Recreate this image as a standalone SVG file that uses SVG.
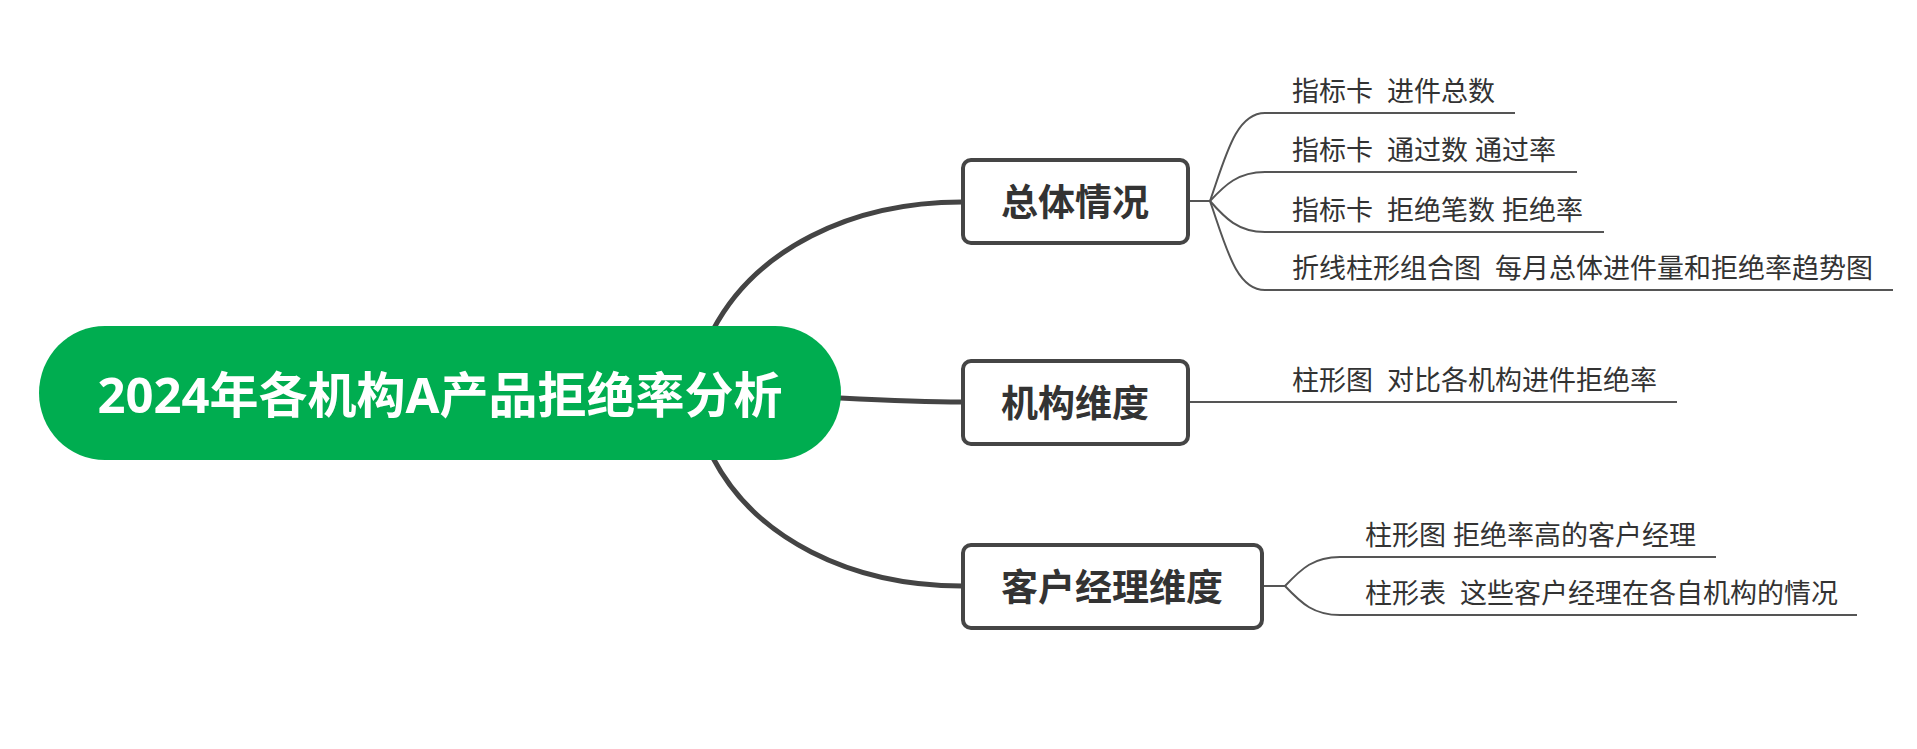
<svg xmlns="http://www.w3.org/2000/svg" width="1917" height="749" viewBox="0 0 1917 749">
  <style>
    .root-shape { fill: #00AD50; }
    .root-text { font-family: "Noto Sans", "Noto Sans CJK SC", sans-serif; font-weight: 700; font-size: 49px; fill: #ffffff; }
    .box { fill: #ffffff; stroke: #454545; stroke-width: 4; }
    .box-text { font-family: "Noto Sans", "Noto Sans CJK SC", sans-serif; font-weight: 700; font-size: 37px; fill: #333333; }
    .leaf-text { font-family: "Noto Sans", "Noto Sans CJK SC", sans-serif; font-size: 27px; fill: #333333; white-space: pre; }
    .main-link { fill: none; stroke: #444444; stroke-width: 5; stroke-linecap: round; }
    .sub-link { fill: none; stroke: #555555; stroke-width: 2; }
  </style>
  <rect width="1917" height="749" fill="#ffffff"/>

  <g id="connectors">
    <path class="main-link" d="M713,330 C755,250 850,202 962,202"/>
    <path class="main-link" d="M840,398 C880,400 920,402 962,402"/>
    <path class="main-link" d="M713,458 C755,538 850,586 962,586"/>

    <path class="sub-link" d="M1188,201 L1210,201"/>
    <path class="sub-link" d="M1210,201 C1226,155 1236,113 1265,113 L1515,113"/>
    <path class="sub-link" d="M1210,201 C1225,185 1238,172 1265,172 L1577,172"/>
    <path class="sub-link" d="M1210,201 C1225,218 1238,232 1265,232 L1604,232"/>
    <path class="sub-link" d="M1210,201 C1226,247 1236,290 1265,290 L1893,290"/>

    <path class="sub-link" d="M1188,402 L1677,402"/>

    <path class="sub-link" d="M1262,586 L1285,586"/>
    <path class="sub-link" d="M1285,586 C1302,568 1314,557 1340,557 L1716,557"/>
    <path class="sub-link" d="M1285,586 C1302,604 1314,615 1340,615 L1857,615"/>
  </g>

  <g id="root">
    <rect class="root-shape" x="39" y="326" width="802" height="134" rx="66" ry="67"/>
    <text class="root-text" x="440" y="413" text-anchor="middle">2024年各机构A产品拒绝率分析</text>
  </g>

  <g id="node-overall">
    <rect class="box" x="963" y="160" width="225" height="83" rx="8"/>
    <text class="box-text" x="1075" y="216" text-anchor="middle">总体情况</text>
  </g>
  <g id="node-org">
    <rect class="box" x="963" y="361" width="225" height="83" rx="8"/>
    <text class="box-text" x="1075" y="417" text-anchor="middle">机构维度</text>
  </g>
  <g id="node-manager">
    <rect class="box" x="963" y="545" width="299" height="83" rx="8"/>
    <text class="box-text" x="1112" y="601" text-anchor="middle">客户经理维度</text>
  </g>

  <g id="leaf-1"><text class="leaf-text" xml:space="preserve" x="1292" y="101">指标卡  进件总数</text></g>
  <g id="leaf-2"><text class="leaf-text" xml:space="preserve" x="1292" y="160">指标卡  通过数 通过率</text></g>
  <g id="leaf-3"><text class="leaf-text" xml:space="preserve" x="1292" y="220">指标卡  拒绝笔数 拒绝率</text></g>
  <g id="leaf-4"><text class="leaf-text" xml:space="preserve" x="1292" y="278">折线柱形组合图  每月总体进件量和拒绝率趋势图</text></g>
  <g id="leaf-5"><text class="leaf-text" xml:space="preserve" x="1292" y="390">柱形图  对比各机构进件拒绝率</text></g>
  <g id="leaf-6"><text class="leaf-text" xml:space="preserve" x="1365" y="545">柱形图 拒绝率高的客户经理</text></g>
  <g id="leaf-7"><text class="leaf-text" xml:space="preserve" x="1365" y="603">柱形表  这些客户经理在各自机构的情况</text></g>
</svg>
